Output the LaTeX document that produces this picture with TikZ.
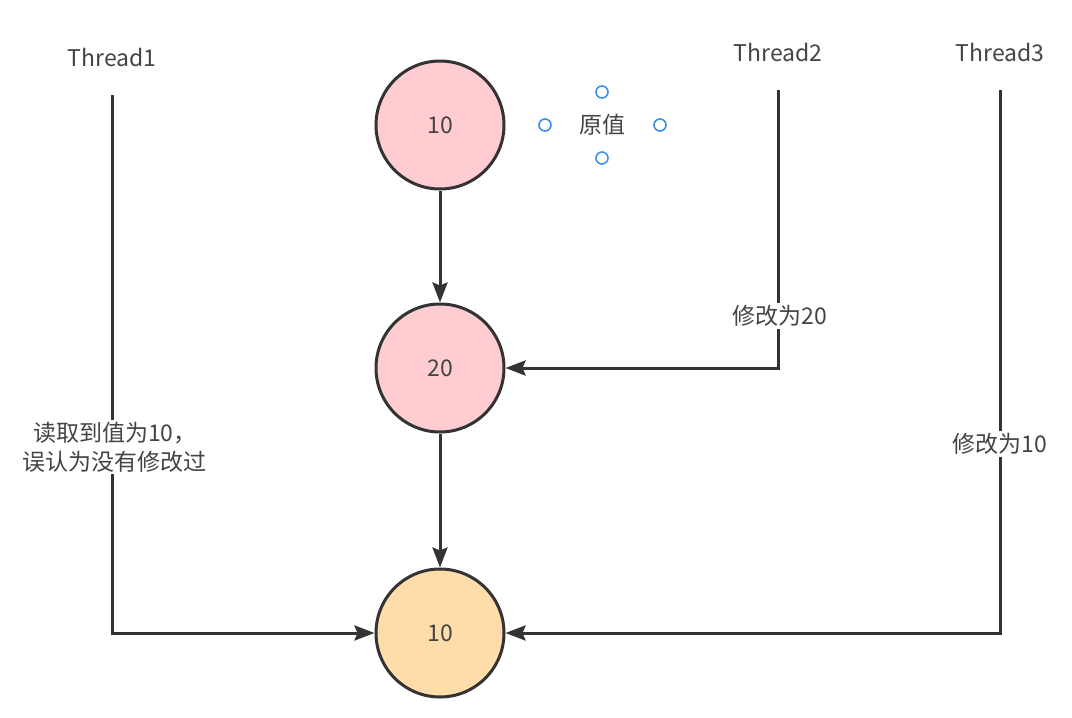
\documentclass[tikz,border=0pt]{standalone}
\usepackage{fontspec}
\setmainfont{Noto Sans CJK SC}
\usetikzlibrary{arrows.meta}
\definecolor{pinkfill}{HTML}{FFCCD2}
\definecolor{orangefill}{HTML}{FFDCAA}
\definecolor{stroke}{HTML}{333333}
\definecolor{txt}{HTML}{444444}
\definecolor{handle}{HTML}{3D8FE8}
\begin{document}
\begin{tikzpicture}[x=1pt,y=-1pt,
  every node/.style={font=\fontsize{23}{29}\selectfont, text=txt},
  val/.style={circle, draw=stroke, line width=3pt, minimum size=128pt, inner sep=0pt},
  conn/.style={draw=stroke, line width=3pt, -{Stealth[length=20pt,width=15pt,inset=3pt]}},
  lbl/.style={fill=white, inner sep=2pt, align=center},
  hdl/.style={circle, draw=handle, line width=1.6pt, minimum size=12pt, inner sep=0pt}]
\useasboundingbox (0,0) rectangle (1072,718);
% values
\node[val, fill=pinkfill] (v1) at (440,125) {10};
\node[val, fill=pinkfill] (v2) at (440,368) {20};
\node[val, fill=orangefill] (v3) at (440,633) {10};
\draw[conn] (v1) -- (v2);
\draw[conn] (v2) -- (v3);
% label 原值 with handles
\node (orig) at (602,125) {原值};
\node[hdl] (h1) at (602,92) {};
\node[hdl] (h2) at (545,125) {};
\node[hdl] (h3) at (660,125) {};
\node[hdl] (h4) at (602,158) {};
% threads
\node (t1) at (112,57) {Thread1};
\node (t2) at (778,52) {Thread2};
\node (t3) at (1000,52) {Thread3};
\coordinate (t1top) at (112,95);
\coordinate (t1bend) at (112,633);
\coordinate (t2top) at (778,90);
\coordinate (t2bend) at (778,368);
\coordinate (t3top) at (1000,90);
\coordinate (t3bend) at (1000,633);
\draw[conn] (t1top) -- (t1bend) -- (v3.west);
\draw[conn] (t2top) -- (t2bend) -- (v2.east);
\draw[conn] (t3top) -- (t3bend) -- (v3.east);
% labels on lines
\node[lbl] (l1) at (115,447) {读取到值为10，\\误认为没有修改过};
\node[lbl] (l2) at (780,316) {修改为20};
\node[lbl] (l3) at (1000,444) {修改为10};
\end{tikzpicture}
\end{document}
